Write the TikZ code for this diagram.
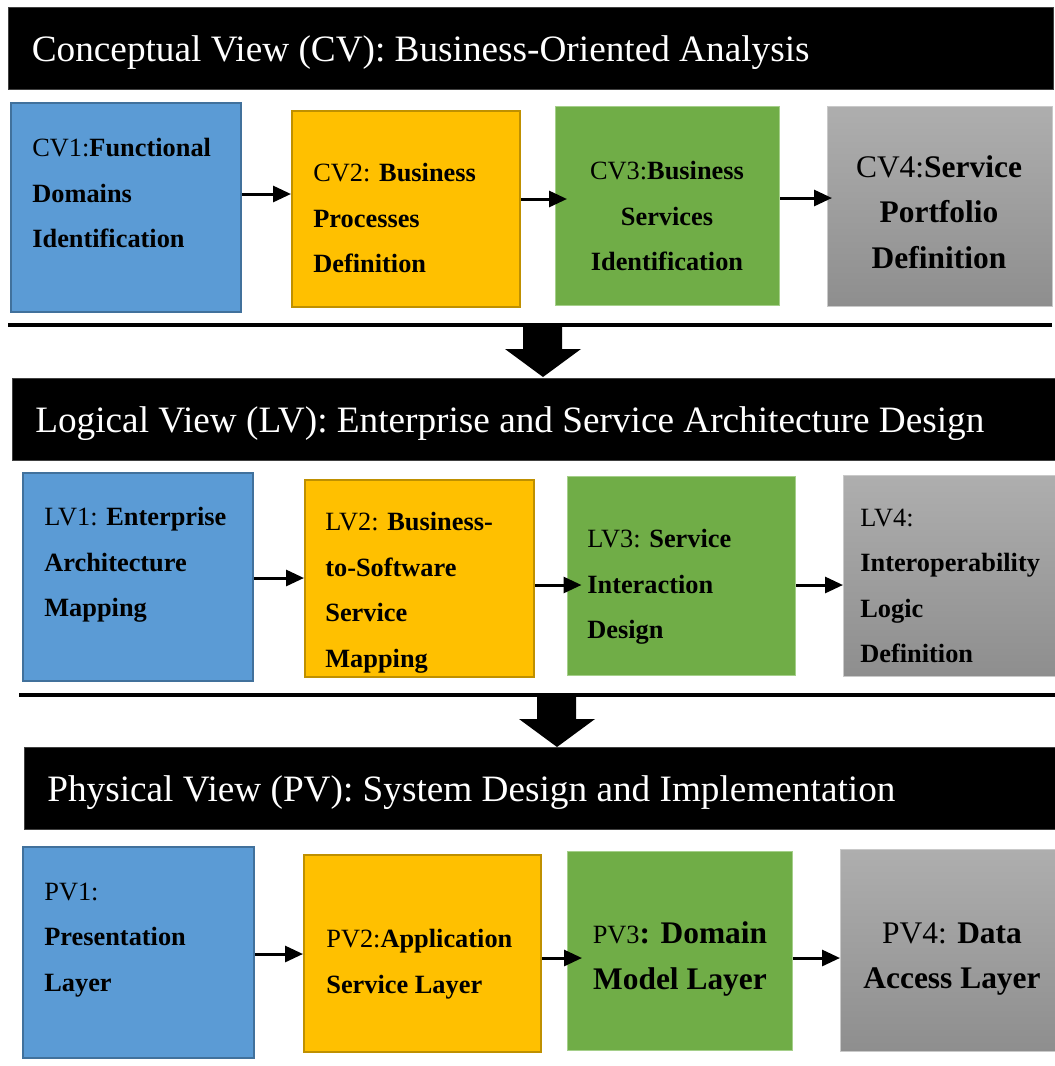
\documentclass[tikz,border=0pt]{standalone}
\usepackage{fontspec}
\setmainfont{Liberation Serif}
\usetikzlibrary{positioning,arrows.meta}
\definecolor{cvblue}{HTML}{5B9BD5}
\definecolor{cvblueline}{HTML}{41719C}
\definecolor{cvorange}{HTML}{FFC000}
\definecolor{cvorangeline}{HTML}{BF9000}
\definecolor{cvgreen}{HTML}{70AD47}
\definecolor{cvgreenline}{HTML}{A5CF8A}
\definecolor{cvgraytop}{HTML}{AEAEAE}
\definecolor{cvgraybottom}{HTML}{8E8E8E}
\definecolor{cvgrayline}{HTML}{C9C9C9}

\begin{document}
\begin{tikzpicture}[
		x=0.02cm, y=-0.02cm,
		viewbar/.style={
				rectangle, fill=black, draw=black!75, line width=0.6pt,
				anchor=north west, inner sep=0pt,
				minimum height=1.64cm
			},
		viewtext/.style={
				text=white, inner sep=0pt, anchor=west, yshift=-0.08cm,
				font=\fontsize{21.2}{25}\selectfont
			},
		stepbox/.style={rectangle, anchor=north west, inner sep=0pt, line width=1.2pt},
		bluebox/.style={stepbox, fill=cvblue, draw=cvblueline},
		orangebox/.style={stepbox, fill=cvorange, draw=cvorangeline},
		greenbox/.style={stepbox, fill=cvgreen, draw=cvgreenline, line width=0.6pt},
		graybox/.style={stepbox, top color=cvgraytop, bottom color=cvgraybottom, draw=cvgrayline, line width=0.8pt},
		steptext/.style={inner sep=0pt, anchor=west, align=left,
				font=\fontsize{15}{25.9}\selectfont}, % testo dei riquadri
		midtext/.style={steptext, anchor=center, align=center},
		bigtext/.style={midtext, font=\fontsize{17.9}{25.9}\selectfont},
		flow/.style={-{Triangle[length=0.36cm,width=0.32cm]}, line width=1.7pt},
		sepline/.style={line width=2.2pt}
	]
	\useasboundingbox (0,0) rectangle (1055,1066);

	% Conceptual View
	\node[viewbar, minimum width=20.9cm] (cvbar) at (8,7) {};
	\node[viewtext, right=0.47cm of cvbar.west] (cvtitle) {Conceptual View (CV): Business-Oriented Analysis};

	\node[bluebox, minimum width=4.60cm, minimum height=4.18cm] (cv1) at (10,102) {};
	\node[orangebox, minimum width=4.56cm, minimum height=3.92cm] (cv2) at (291,110) {};
	\node[greenbox, minimum width=4.48cm, minimum height=3.98cm] (cv3) at (555,106) {};
	\node[graybox, minimum width=4.50cm, minimum height=4.00cm] (cv4) at (827,106) {};

	\node[steptext] (cv1txt) at (32,193) {CV1:\textbf{Functional}\\\textbf{Domains}\\\textbf{Identification}};
	\node[steptext] (cv2txt) at (313,218) {CV2: \textbf{Business}\\\textbf{Processes}\\\textbf{Definition}};
	\node[midtext] (cv3txt) at (667,216) {CV3:\textbf{Business}\\\textbf{Services}\\\textbf{Identification}};
	\node[bigtext] (cv4txt) at (939,212) {CV4:\textbf{Service}\\\textbf{Portfolio}\\\textbf{Definition}};

	\draw[flow] (cv1.east |- 0,194) -- (cv2.west |- 0,194);
	\draw[flow, shorten >=-0.24cm] (cv2.east |- 0,199) -- (cv3.west |- 0,199);
	\draw[flow, shorten >=-0.1cm] (cv3.east |- 0,198) -- (cv4.west |- 0,198);

	\draw[sepline] (8,325) -- (1052,325);

	% Logical View
	\node[viewbar, minimum width=20.9cm] (lvbar) at (12,378) {};
	\node[viewtext, right=0.46cm of lvbar.west] (lvtitle) {Logical View (LV): Enterprise and Service Architecture Design};

	\node[bluebox, minimum width=4.60cm, minimum height=4.16cm] (lv1) at (22,472) {};
	\node[orangebox, minimum width=4.58cm, minimum height=3.94cm] (lv2) at (304,479) {};
	\node[greenbox, minimum width=4.56cm, minimum height=3.98cm] (lv3) at (567,476) {};
	\node[graybox, minimum width=4.30cm, minimum height=4.02cm] (lv4) at (843,475) {};

	\node[steptext] (lv1txt) at (44,565) {LV1: \textbf{Enterprise}\\\textbf{Architecture}\\\textbf{Mapping}};
	\node[steptext] (lv2txt) at (325,593) {LV2: \textbf{Business-}\\\textbf{to-Software}\\\textbf{Service}\\\textbf{Mapping}};
	\node[steptext] (lv3txt) at (587,587) {LV3: \textbf{Service}\\\textbf{Interaction}\\\textbf{Design}};
	\node[steptext] (lv4txt) at (860,586) {LV4:\\\textbf{Interoperability}\\\textbf{Logic}\\\textbf{Definition}};

	\draw[flow] (lv1.east |- 0,578) -- (lv2.west |- 0,578);
	\draw[flow, shorten >=-0.29cm] (lv2.east |- 0,585) -- (lv3.west |- 0,585);
	\draw[flow] (lv3.east |- 0,585) -- (lv4.west |- 0,585);

	\draw[sepline] (19,695) -- (1055,695);

	% Physical View
	\node[viewbar, minimum width=20.7cm] (pvbar) at (24,747) {};
	\node[viewtext, right=0.46cm of pvbar.west] (pvtitle) {Physical View (PV): System Design and Implementation};

	\node[bluebox, minimum width=4.62cm, minimum height=4.22cm] (pv1) at (22,846) {};
	\node[orangebox, minimum width=4.74cm, minimum height=3.94cm] (pv2) at (303,854) {};
	\node[greenbox, minimum width=4.50cm, minimum height=3.98cm] (pv3) at (567,851) {};
	\node[graybox, minimum width=4.34cm, minimum height=4.04cm] (pv4) at (840,849) {};

	\node[steptext] (pv1txt) at (44,940) {PV1:\\\textbf{Presentation}\\\textbf{Layer}};
	\node[steptext] (pv2txt) at (326,964) {PV2:\textbf{Application}\\\textbf{Service Layer}};
	\node[bigtext] (pv3txt) at (680,959) {{\fontsize{15}{25.9}\selectfont PV3}\textbf{: Domain}\\\textbf{Model Layer}};
	\node[bigtext] (pv4txt) at (952,959) {PV4: \textbf{Data}\\\textbf{Access Layer}};

	\draw[flow] (pv1.east |- 0,954) -- (pv2.west |- 0,954);
	\draw[flow, shorten >=-0.3cm] (pv2.east |- 0,958) -- (pv3.west |- 0,958);
	\draw[flow] (pv3.east |- 0,958) -- (pv4.west |- 0,958);

	% frecce tra le viste
	\foreach \cx/\ty in {543/326, 557/696}
	\fill (\cx-20,\ty) -- (\cx+19,\ty) -- (\cx+19,\ty+23) -- (\cx+38,\ty+23)
	-- (\cx,\ty+51) -- (\cx-38,\ty+23) -- (\cx-20,\ty+23) -- cycle;
\end{tikzpicture}
\end{document}
